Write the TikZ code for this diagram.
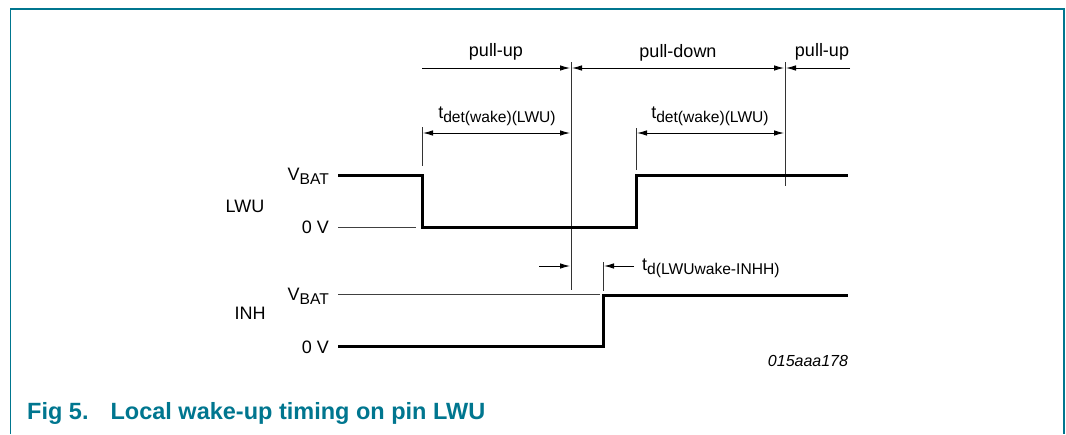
\documentclass[tikz,border=0pt]{standalone}
\usepackage{fontspec}
\setmainfont{Liberation Sans}
\usetikzlibrary{arrows.meta}
\definecolor{figteal}{RGB}{0,118,143}
\newcommand{\lowsub}[1]{\raisebox{-0.4ex}{\fontsize{15.6}{16}\selectfont #1}}

\begin{document}
\begin{tikzpicture}[x=1pt,y=-1pt,
  lbl/.style={font=\fontsize{18}{20}\selectfont, inner sep=0pt},
  sig/.style={line width=3pt, line join=miter},
  guide/.style={line width=0.9pt, black!75},
  marker/.style={line width=0.9pt, black!80},
  dim/.style={line width=0.9pt, -{Latex[length=10pt,width=5.5pt]}},
  ddim/.style={line width=0.9pt, {Latex[length=10pt,width=5.5pt]}-{Latex[length=10pt,width=5.5pt]}},
]
\useasboundingbox (0,0) rectangle (1066,434);

% open frame round the figure
\draw[figteal, line width=1.6pt] (10.5,434) -- (10.5,9) -- (1064,9) -- (1064,434);

% vertical time markers
\coordinate (m1t) at (422,127); \coordinate (m1b) at (422,166);
\coordinate (m2t) at (571,62);  \coordinate (m2b) at (571,290);
\coordinate (m3t) at (636,128); \coordinate (m3b) at (636,170);
\coordinate (m4t) at (785,62);  \coordinate (m4b) at (785,186);
\coordinate (m5t) at (603,262); \coordinate (m5b) at (603,291);
\draw[marker] (m1t) -- (m1b);
\draw[marker] (m2t) -- (m2b);
\draw[marker] (m3t) -- (m3b);
\draw[marker] (m4t) -- (m4b);
\draw[marker] (m5t) -- (m5b);

% pull-up / pull-down phases
\coordinate (pu0) at (422,68);
\coordinate (pu1) at (570,68);
\coordinate (pd0) at (572,68);
\coordinate (pd1) at (784,68);
\coordinate (pr0) at (850,68);
\coordinate (pr1) at (786,68);
\draw[dim] (pu0) -- (pu1);
\draw[ddim] (pd0) -- (pd1);
\draw[dim] (pr0) -- (pr1);
\node[lbl] (pulA) at (496,52) {pull-up};
\node[lbl] (pulD) at (678,53) {pull-down};
\node[lbl] (pulB) at (822,52) {pull-up};

% detection times
\coordinate (ta0) at (423,133); \coordinate (ta1) at (570,133);
\coordinate (tb0) at (637,133); \coordinate (tb1) at (784,133);
\draw[ddim] (ta0) -- (ta1);
\draw[ddim] (tb0) -- (tb1);
\node[lbl] (tdetA) at (497,116) {t\lowsub{det(wake)(LWU)}};
\node[lbl] (tdetB) at (710,116) {t\lowsub{det(wake)(LWU)}};

% INH delay
\coordinate (dl0) at (539,266); \coordinate (dl1) at (570,266);
\coordinate (dr0) at (634,266); \coordinate (dr1) at (604,266);
\draw[dim] (dl0) -- (dl1);
\draw[dim] (dr0) -- (dr1);
\node[lbl, anchor=west] (tdl) at (642,268) {t\lowsub{d(LWUwake-INHH)}};

% level labels
\node[lbl] (lwu) at (245,206) {LWU};
\node[lbl] (inh) at (250,313) {INH};
\node[lbl, anchor=east] (vbA) at (329,176) {V\lowsub{BAT}};
\node[lbl, anchor=east] (zvA) at (329,227) {0 V};
\node[lbl, anchor=east] (vbB) at (329,296) {V\lowsub{BAT}};
\node[lbl, anchor=east] (zvB) at (329,347) {0 V};

% reference levels
\draw[guide] (338,227) -- (416,227);
\draw[guide] (338,294) -- (600,294);

% signals
\draw[sig] (338,175) -- (422,175) -- (422,227) -- (636,227) -- (636,175) -- (848,175);
\draw[sig] (338,346) -- (603,346) -- (603,295) -- (848,295);

% figure code and caption
\node[font=\fontsize{16}{18}\selectfont\itshape, inner sep=0pt] (code) at (808,361) {015aaa178};
\node[anchor=west, inner sep=0pt, text=figteal, font=\fontsize{23.5}{25}\selectfont\bfseries] (cap) at (27,413)
  {Fig 5.\hspace{22pt}Local wake-up timing on pin LWU};
\end{tikzpicture}
\end{document}
